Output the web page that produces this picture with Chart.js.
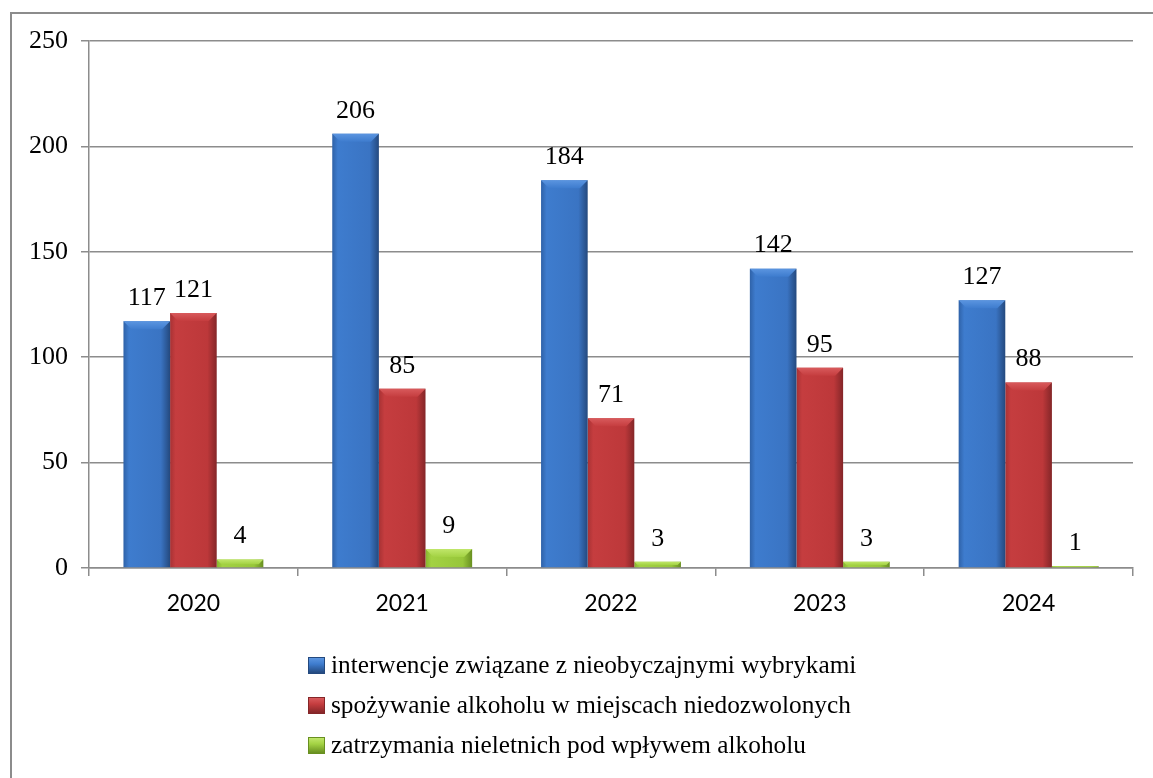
<!DOCTYPE html>
<html>
<head>
<meta charset="utf-8">
<script src="https://cdn.jsdelivr.net/npm/chart.js@4/dist/chart.umd.min.js"></script>
<style>
	body { margin: 0; background: #fff; }
	#wrap { position: relative; width: 1153px; height: 778px; overflow: hidden; }
	#frame { position: absolute; left: 10px; top: 12px; width: 1160px; height: 800px; border: 2px solid #8c8c8c; box-sizing: border-box; }
	#chart { position: absolute; left: 0; top: 0; }
	#legend { position: absolute; left: 308px; top: 644px; font-family: 'Liberation Serif', Tinos, serif; font-size: 25.3px; color: #000; }
	.item { height: 40px; line-height: 40px; white-space: nowrap; }
	.box { display: inline-block; width: 15px; height: 15px; margin-right: 6px; vertical-align: -1px; }
</style>
</head>
<body>
<div id="wrap">
	<div id="frame"></div>
	<canvas id="chart" width="1153" height="778"></canvas>
	<div id="legend"></div>
</div>
<script>
var years = ["2020", "2021", "2022", "2023", "2024"];
var seriesNames = [
	"interwencje związane z nieobyczajnymi wybrykami",
	"spożywanie alkoholu w miejscach niedozwolonych",
	"zatrzymania nieletnich pod wpływem alkoholu"
];
var interwencje = [117, 206, 184, 142, 127];
var spozywanie = [121, 85, 71, 95, 88];
var zatrzymania = [4, 9, 3, 3, 1];
var yTicks = [0, 50, 100, 150, 200, 250];

var serif = "'Liberation Serif', Tinos, serif";

// edge / body / body / edge / top-highlight colours for the shaded bars
var shades = [
	["#2f62a8", "#3e7cce", "#3a74c3", "#24497e", "#5b95e0"],
	["#a83234", "#c53d3f", "#bd383a", "#842628", "#d85a5c"],
	["#86b52e", "#a3d243", "#97c63a", "#688f20", "#c0e66a"]
];

function barShade(ctx, x0, x1, s) {
	var g = ctx.createLinearGradient(x0, 0, x1, 0);
	g.addColorStop(0, s[0]);
	g.addColorStop(0.12, s[1]);
	g.addColorStop(0.8, s[2]);
	g.addColorStop(1, s[3]);
	return g;
}

// every bar gets its own options object so each one can carry its own gradient
var shadePlugin = {
	id: "shade",
	beforeDatasetsDraw: function(chart) {
		var ctx = chart.ctx;
		chart.data.datasets.forEach(function(ds, i) {
			chart.getDatasetMeta(i).data.forEach(function(bar) {
				var x0 = bar.x - bar.width / 2;
				var opts = Object.assign({}, bar.options);
				opts.backgroundColor = barShade(ctx, x0, x0 + bar.width, shades[i]);
				bar.options = opts;
			});
		});
	},
	afterDatasetsDraw: function(chart) {
		// bevelled top edge of each bar
		var ctx = chart.ctx;
		ctx.save();
		chart.data.datasets.forEach(function(ds, i) {
			chart.getDatasetMeta(i).data.forEach(function(bar) {
				var x0 = bar.x - bar.width / 2, x1 = bar.x + bar.width / 2;
				var h = Math.min(8, (bar.base - bar.y) * 0.6);
				if (h <= 0) return;
				var g = ctx.createLinearGradient(0, bar.y, 0, bar.y + h);
				g.addColorStop(0, shades[i][4]);
				g.addColorStop(1, shades[i][1]);
				ctx.fillStyle = g;
				ctx.beginPath();
				ctx.moveTo(x0, bar.y);
				ctx.lineTo(x1, bar.y);
				ctx.lineTo(x1 - h, bar.y + h);
				ctx.lineTo(x0 + h, bar.y + h);
				ctx.closePath();
				ctx.fill();
			});
		});
		ctx.restore();
	}
};

var valuePlugin = {
	id: "values",
	afterDatasetsDraw: function(chart) {
		var ctx = chart.ctx;
		ctx.save();
		ctx.font = "26px " + serif;
		ctx.fillStyle = "#000";
		ctx.textAlign = "center";
		ctx.textBaseline = "bottom";
		chart.data.datasets.forEach(function(ds, i) {
			chart.getDatasetMeta(i).data.forEach(function(bar, j) {
				ctx.fillText(ds.data[j], bar.x, bar.y - 10);
			});
		});
		ctx.restore();
	}
};

var chart = new Chart("chart", {
	type: "bar",
	data: {
		labels: years,
		datasets: [
			{ label: seriesNames[0], data: interwencje, backgroundColor: shades[0][1] },
			{ label: seriesNames[1], data: spozywanie, backgroundColor: shades[1][1] },
			{ label: seriesNames[2], data: zatrzymania, backgroundColor: shades[2][1] }
		]
	},
	options: {
		responsive: false,
		animation: false,
		layout: { padding: { top: 41, left: 0, right: 20, bottom: 150 } },
		datasets: { bar: { categoryPercentage: 0.67, barPercentage: 1 } },
		plugins: {
			legend: { display: false },
			tooltip: { enabled: false }
		},
		scales: {
			x: {
				grid: { drawOnChartArea: false, drawTicks: true, tickLength: 8, color: "#8c8c8c", lineWidth: 1.5 },
				border: { color: "#8c8c8c", width: 1.5 },
				ticks: { color: "#000", padding: 14, font: { family: "Lato, 'Open Sans', sans-serif", size: 23 } },
				afterFit: function(scale) { scale.height = 60; }
			},
			y: {
				min: 0,
				max: 250,
				afterBuildTicks: function(scale) {
					scale.ticks = yTicks.map(function(v) { return { value: v }; });
				},
				grid: { color: "#8c8c8c", lineWidth: 1.5, tickLength: 8 },
				border: { color: "#8c8c8c", width: 1.5 },
				ticks: { color: "#000", padding: 13, font: { family: serif, size: 26 } },
				afterFit: function(scale) { scale.width = 89; }
			}
		}
	},
	plugins: [shadePlugin, valuePlugin]
});

// legend below the chart, one row per series
var legend = document.getElementById("legend");
chart.data.datasets.forEach(function(ds, i) {
	var row = document.createElement("div");
	row.className = "item";
	var box = document.createElement("span");
	box.className = "box";
	box.style.background = "linear-gradient(to bottom, " + shades[i][4] + ", " + shades[i][1] + " 40%, " + shades[i][3] + ")";
	box.style.border = "1px solid " + shades[i][3];
	row.appendChild(box);
	row.appendChild(document.createTextNode(ds.label));
	legend.appendChild(row);
});
</script>
</body>
</html>
